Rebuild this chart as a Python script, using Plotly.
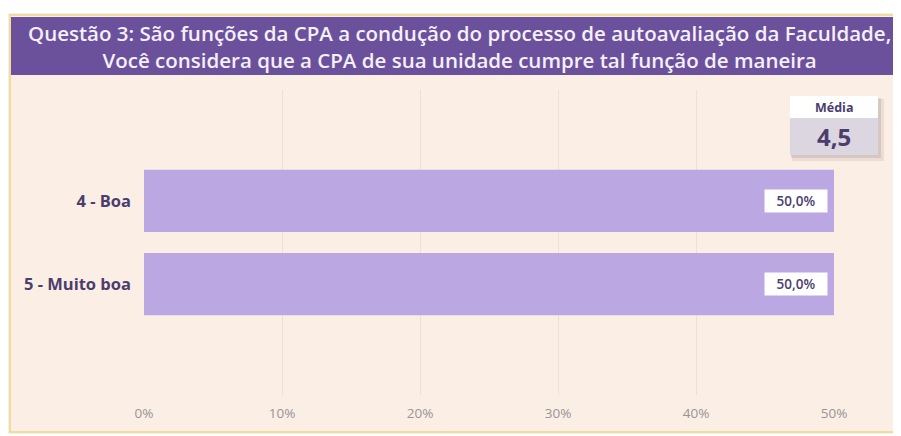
import plotly.graph_objects as go

categories = ["4 - Boa", "5 - Muito boa"]
values = [0.5, 0.5]
value_labels = ["50,0%", "50,0%"]
tick_vals = [0, 0.1, 0.2, 0.3, 0.4, 0.5]
tick_text = ["0%", "10%", "20%", "30%", "40%", "50%"]
title_lines = ["Questão 3: São funções da CPA a condução do processo de autoavaliação da Faculdade,",
               "Você considera que a CPA de sua unidade cumpre tal função de maneira"]
media_label = "Média"
media_value = "4,5"

# page body has an 8px margin; figure coordinates are offset accordingly
OFF = 8
W, H = 901 - OFF, 436 - OFF
L, T = 144 - OFF, 90 - OFF
R = W - (834 - OFF)
B = H - (395 - OFF)
PW, PH = W - L - R, H - T - B


def px(x):
    return (x - OFF - L) / PW


def py(y):
    return (H - B - (y - OFF)) / PH


BG = "#FBEEE5"
PURPLE = "#6B519C"
BAR = "#BBA7E2"
DARK = "#4B3D6E"

fig = go.Figure()
fig.add_trace(go.Bar(
    y=list(range(len(categories))), x=values, orientation="h",
    marker=dict(color=BAR, line=dict(width=0)), width=0.75,
    hoverinfo="skip",
))

shapes = [
    # soft shadow around card
    dict(type="rect", xref="paper", yref="paper", x0=px(8), x1=px(915), y0=py(434), y1=py(13),
         fillcolor="rgba(0,0,0,0.06)", line=dict(width=0), layer="below"),
    dict(type="rect", xref="paper", yref="paper", x0=px(10), x1=px(915), y0=py(432), y1=py(15),
         fillcolor=BG, line=dict(color="#F1DC9A", width=2), layer="below"),
    dict(type="rect", xref="paper", yref="paper", x0=px(11), x1=px(915), y0=py(75), y1=py(17),
         fillcolor=PURPLE, line=dict(width=0), layer="below"),
    # media box shadow
    dict(type="rect", xref="paper", yref="paper", x0=px(792), x1=px(884), y0=py(161), y1=py(99),
         fillcolor="rgba(120,100,110,0.12)", line=dict(width=0), layer="above"),
    dict(type="rect", xref="paper", yref="paper", x0=px(791), x1=px(881), y0=py(158), y1=py(98),
         fillcolor="rgba(120,100,110,0.18)", line=dict(width=0), layer="above"),
    dict(type="rect", xref="paper", yref="paper", x0=px(790), x1=px(878), y0=py(118), y1=py(96),
         fillcolor="#FFFFFF", line=dict(width=0), layer="above"),
    dict(type="rect", xref="paper", yref="paper", x0=px(790), x1=px(878), y0=py(155), y1=py(118),
         fillcolor="#DCD6E1", line=dict(width=0), layer="above"),
]

annotations = [
    dict(xref="paper", yref="paper", x=px(459), y=py(46), text="<br>".join(title_lines),
         showarrow=False, xanchor="center", yanchor="middle", align="center",
         font=dict(family="Open Sans", size=20.5, color="#F4EFF8", weight=600)),
    dict(xref="paper", yref="paper", x=px(834), y=py(107), text=media_label,
         showarrow=False, xanchor="center", yanchor="middle",
         font=dict(family="Open Sans", size=12.5, color=DARK, weight=700)),
    dict(xref="paper", yref="paper", x=px(834), y=py(136), text=media_value,
         showarrow=False, xanchor="center", yanchor="middle",
         font=dict(family="Open Sans", size=24, color=DARK, weight=700)),
]
for i, (v, t) in enumerate(zip(values, value_labels)):
    annotations.append(dict(
        x=v, y=i, xref="x", yref="y", text=t, showarrow=False,
        xanchor="right", xshift=-6, yanchor="middle",
        width=58, height=18, align="center", valign="middle",
        bgcolor="#FFFFFF", borderpad=2,
        font=dict(family="Open Sans", size=13.5, color=DARK, weight=600),
    ))

fig.update_layout(
    width=W, height=H,
    margin=dict(l=L, r=R, t=T, b=B),
    paper_bgcolor="#FFFFFF", plot_bgcolor="rgba(0,0,0,0)",
    showlegend=False,
    shapes=shapes, annotations=annotations,
    xaxis=dict(range=[0, 0.5], tickvals=tick_vals, ticktext=tick_text,
               showgrid=True, gridcolor="#EAE2DA", gridwidth=1, zeroline=False,
               showline=False, ticks="", ticklabelstandoff=8,
               tickfont=dict(family="Liberation Sans Narrow, Open Sans", size=13.5, color="#9A9494")),
    yaxis=dict(range=[2.337, -1.337], tickvals=list(range(len(categories))), ticktext=categories,
               showgrid=False, zeroline=False, showline=False, ticks="", ticklabelstandoff=12,
               tickfont=dict(family="Open Sans", size=16.5, color=DARK, weight=700)),
)

fig.write_html("out.html")
